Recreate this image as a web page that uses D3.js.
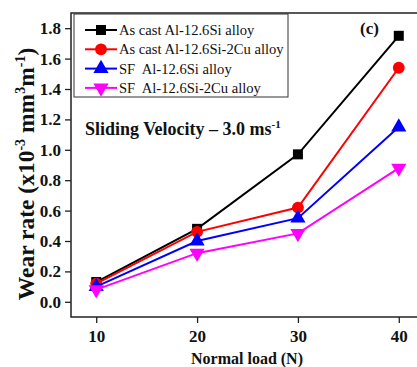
<!DOCTYPE html>
<html><head><meta charset="utf-8">
<script src="https://cdn.jsdelivr.net/npm/d3@7"></script>
<style>body{margin:0;background:#fff}svg{display:block}text{white-space:pre}</style>
</head><body>
<script>
const loads = [10, 20, 30, 40];
const seriesNames = ["As cast Al-12.6Si alloy", "As cast Al-12.6Si-2Cu alloy", "SF  Al-12.6Si alloy", "SF  Al-12.6Si-2Cu alloy"];
const castSi = [0.13, 0.48, 0.97, 1.75];
const castSiCu = [0.12, 0.46, 0.62, 1.54];
const sfSi = [0.10, 0.40, 0.55, 1.15];
const sfSiCu = [0.08, 0.32, 0.45, 0.88];
const yTicks = [0.0, 0.2, 0.4, 0.6, 0.8, 1.0, 1.2, 1.4, 1.6, 1.8];
const xTicks = [10, 20, 30, 40];

const series = [
  {name: seriesNames[0], values: castSi, color: "#000000", sym: d3.symbolSquare},
  {name: seriesNames[1], values: castSiCu, color: "#ff0000", sym: d3.symbolCircle},
  {name: seriesNames[2], values: sfSi, color: "#0000ff", sym: d3.symbolTriangle},
  {name: seriesNames[3], values: sfSiCu, color: "#ff00ff", sym: "down"}
];

const W = 417, H = 367;
const svg = d3.select("body").append("svg").attr("width", W).attr("height", H);
const L = 71, R = 424, T = 13, B = 317;
const x = d3.scaleLinear().domain([7.5, 42.5]).range([L, R]);
const y = d3.scaleLinear().domain([-0.1, 1.9]).range([B, T]);
const font = "'Liberation Serif', 'Times New Roman', serif";

// frame
svg.append("rect").attr("x", L).attr("y", T).attr("width", R - L).attr("height", B - T)
  .attr("fill", "none").attr("stroke", "#222").attr("stroke-width", 1.5);

const yAxis = svg.append("g").attr("transform", `translate(${L},0)`)
  .call(d3.axisLeft(y).tickValues(yTicks).tickFormat(d3.format(".1f")).tickSize(6).tickSizeOuter(0));
const xAxis = svg.append("g").attr("transform", `translate(0,${B})`)
  .call(d3.axisBottom(x).tickValues(xTicks).tickSize(6).tickSizeOuter(0));
[yAxis, xAxis].forEach(a => {
  a.select(".domain").remove();
  a.selectAll("line").attr("stroke", "#222").attr("stroke-width", 1.3);
  a.selectAll("text").attr("font-family", font).attr("font-weight", "bold")
    .attr("font-size", 17).attr("fill", "#111");
});
yAxis.selectAll("text").attr("dx", "-1");
xAxis.selectAll("text").attr("dy", "0.95em");

function sym(s, size) {
  if (s === "down") return d3.symbol().type(d3.symbolTriangle).size(size)();
  return d3.symbol().type(s).size(size)();
}
const line = d3.line().x((d, i) => x(loads[i])).y(d => y(d));
series.forEach(s => {
  svg.append("path").attr("d", line(s.values)).attr("fill", "none")
    .attr("stroke", s.color).attr("stroke-width", 2);
  s.values.forEach((v, i) => {
    svg.append("path").attr("d", sym(s.sym, s.sym === d3.symbolCircle ? 110 : 100))
      .attr("transform", `translate(${x(loads[i])},${y(v)})` + (s.sym === "down" ? " rotate(180)" : ""))
      .attr("fill", s.color);
  });
});

// legend
const lg = svg.append("g");
lg.append("rect").attr("x", 74).attr("y", 14).attr("width", 214).attr("height", 83)
  .attr("fill", "#fff").attr("stroke", "#333").attr("stroke-width", 1);
series.forEach((s, i) => {
  const yy = 30 + i * 19.3;
  lg.append("line").attr("x1", 85).attr("x2", 117).attr("y1", yy).attr("y2", yy)
    .attr("stroke", s.color).attr("stroke-width", 2);
  lg.append("path").attr("d", sym(s.sym, s.sym === d3.symbolCircle ? 110 : 100))
    .attr("transform", `translate(101,${yy})` + (s.sym === "down" ? " rotate(180)" : ""))
    .attr("fill", s.color);
  lg.append("text").attr("x", 119).attr("y", yy + 5).text(s.name)
    .attr("font-family", font).attr("font-size", 14.6).attr("fill", "#111");
});

// annotations
svg.append("text").attr("x", 360).attr("y", 34).text("(c)")
  .attr("font-family", font).attr("font-weight", "bold").attr("font-size", 17).attr("fill", "#111");
const sv = svg.append("text").attr("x", 85).attr("y", 135)
  .attr("font-family", font).attr("font-weight", "bold").attr("font-size", 18).attr("fill", "#111");
sv.append("tspan").text("Sliding Velocity – 3.0 ms");
sv.append("tspan").text("-1").attr("font-size", 11).attr("dy", -7);

// axis titles
const yl = svg.append("text").attr("transform", "translate(34,174) rotate(-90)")
  .attr("text-anchor", "middle").attr("font-family", font).attr("font-weight", "bold")
  .attr("font-size", 23.5).attr("fill", "#111");
yl.append("tspan").text("Wear rate (x10");
yl.append("tspan").text("-3").attr("font-size", 14).attr("dy", -9);
yl.append("tspan").text(" mm").attr("dy", 9);
yl.append("tspan").text("3").attr("font-size", 14).attr("dy", -9);
yl.append("tspan").text("m").attr("dy", 9);
yl.append("tspan").text("-1").attr("font-size", 14).attr("dy", -9);
yl.append("tspan").text(")").attr("dy", 9);

svg.append("text").attr("x", 247).attr("y", 364).attr("text-anchor", "middle")
  .text("Normal load (N)").attr("font-family", font).attr("font-weight", "bold")
  .attr("font-size", 16).attr("fill", "#111");
</script>
</body></html>
